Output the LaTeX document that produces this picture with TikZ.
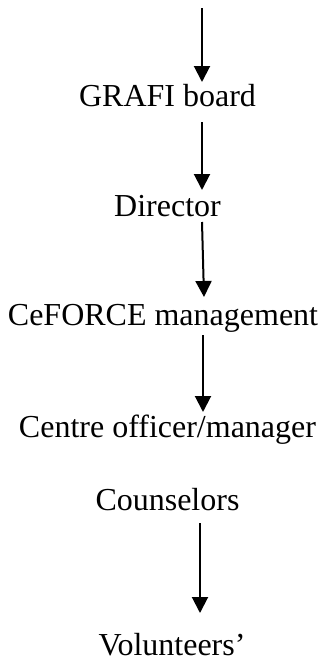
\documentclass[tikz,border=0pt]{standalone}
\usepackage{fontspec}
\setmainfont{Liberation Serif}
\usetikzlibrary{arrows.meta}
\begin{document}
\begin{tikzpicture}[x=1pt,y=-1pt,
  lbl/.style={anchor=base,inner sep=0pt,font=\fontsize{32}{38}\selectfont},
  arr/.style={line width=2pt,-{Triangle[length=16pt,width=16pt]}}]
\useasboundingbox (0,0) rectangle (324,662);
\node[lbl] (grafi) at (167.5,106) {GRAFI board};
\node[lbl] (dir) at (167.5,216) {Director};
\node[lbl] (cef) at (163,325) {CeFORCE management};
\node[lbl] (cen) at (167.5,437) {Centre officer/manager};
\node[lbl] (cou) at (167.5,510) {Counselors};
\node[lbl] (vol) at (172,655) {Volunteers’};
\coordinate (a1s) at (202,8);   \coordinate (a1e) at (202,82);
\coordinate (a2s) at (202,122); \coordinate (a2e) at (202,190);
\coordinate (a3s) at (202,222); \coordinate (a3e) at (204,297);
\coordinate (a4s) at (203,335); \coordinate (a4e) at (203,412);
\coordinate (a5s) at (200,523); \coordinate (a5e) at (200,613);
\draw[arr] (a1s) -- (a1e);
\draw[arr] (a2s) -- (a2e);
\draw[arr] (a3s) -- (a3e);
\draw[arr] (a4s) -- (a4e);
\draw[arr] (a5s) -- (a5e);
\end{tikzpicture}
\end{document}
